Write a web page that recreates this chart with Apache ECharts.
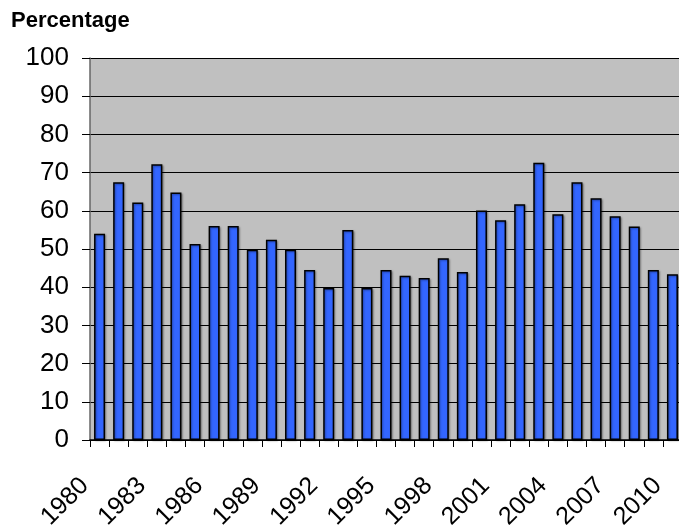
<!DOCTYPE html>
<html>
<head>
<meta charset="utf-8">
<script src="https://cdn.jsdelivr.net/npm/echarts@6/dist/echarts.min.js"></script>
<style>html,body{margin:0;padding:0;background:#fff;}#c{width:679px;height:526px;}</style>
</head>
<body>
<div id="c"></div>
<script>
var years = ['1980','1981','1982','1983','1984','1985','1986','1987','1988','1989','1990','1991','1992','1993','1994','1995','1996','1997','1998','1999','2000','2001','2002','2003','2004','2005','2006','2007','2008','2009','2010'];
var percentages = [54, 67.5, 62.2, 72.2, 64.8, 51.3, 56, 56, 49.8, 52.4, 49.8, 44.5, 39.8, 55, 39.8, 44.5, 43, 42.4, 47.6, 44, 60.1, 57.5, 61.7, 72.6, 59.1, 67.5, 63.3, 58.6, 55.9, 44.5, 43.4];
var yTitle = 'Percentage';

var chart = echarts.init(document.getElementById('c'), null, {renderer: 'canvas'});
chart.setOption({
  animation: false,
  backgroundColor: '#ffffff',
  title: {
    text: yTitle, left: 6, top: 5,
    textStyle: {fontFamily: 'Liberation Sans, Arial, sans-serif', fontWeight: 'bold', fontSize: 22, color: '#000'}
  },
  grid: {left: 90, top: 58, bottom: 86, right: -3, outerBoundsMode: 'none', containLabel: false, show: true, backgroundColor: '#c0c0c0', borderWidth: 0},
  xAxis: {
    type: 'category', data: years,
    axisLine: {show: true, lineStyle: {color: '#000', width: 1.5}},
    axisTick: {show: true, interval: 0, length: 7, lineStyle: {color: '#000', width: 1}},
    axisLabel: {interval: 2, rotate: 45, margin: 27, padding: [0, 21, 0, 0], fontFamily: 'Liberation Sans, Arial, sans-serif', fontSize: 25, color: '#000'},
    splitLine: {show: false}
  },
  yAxis: {
    type: 'value', min: 0, max: 100, interval: 10,
    axisLine: {show: true, lineStyle: {color: '#666', width: 1.5}},
    axisTick: {show: true, length: 8, lineStyle: {color: '#000', width: 1}},
    axisLabel: {margin: 21, fontFamily: 'Liberation Sans, Arial, sans-serif', fontSize: 26, color: '#000'},
    splitLine: {show: true, lineStyle: {color: '#000', width: 1}}
  },
  series: [{
    type: 'bar', data: percentages, barWidth: 11,
    itemStyle: {color: '#3366ff', borderColor: '#000', borderWidth: 1.5, shadowColor: 'rgba(0,0,0,0.35)', shadowBlur: 2, shadowOffsetX: 1, shadowOffsetY: 1}
  }]
});
</script>
</body>
</html>
